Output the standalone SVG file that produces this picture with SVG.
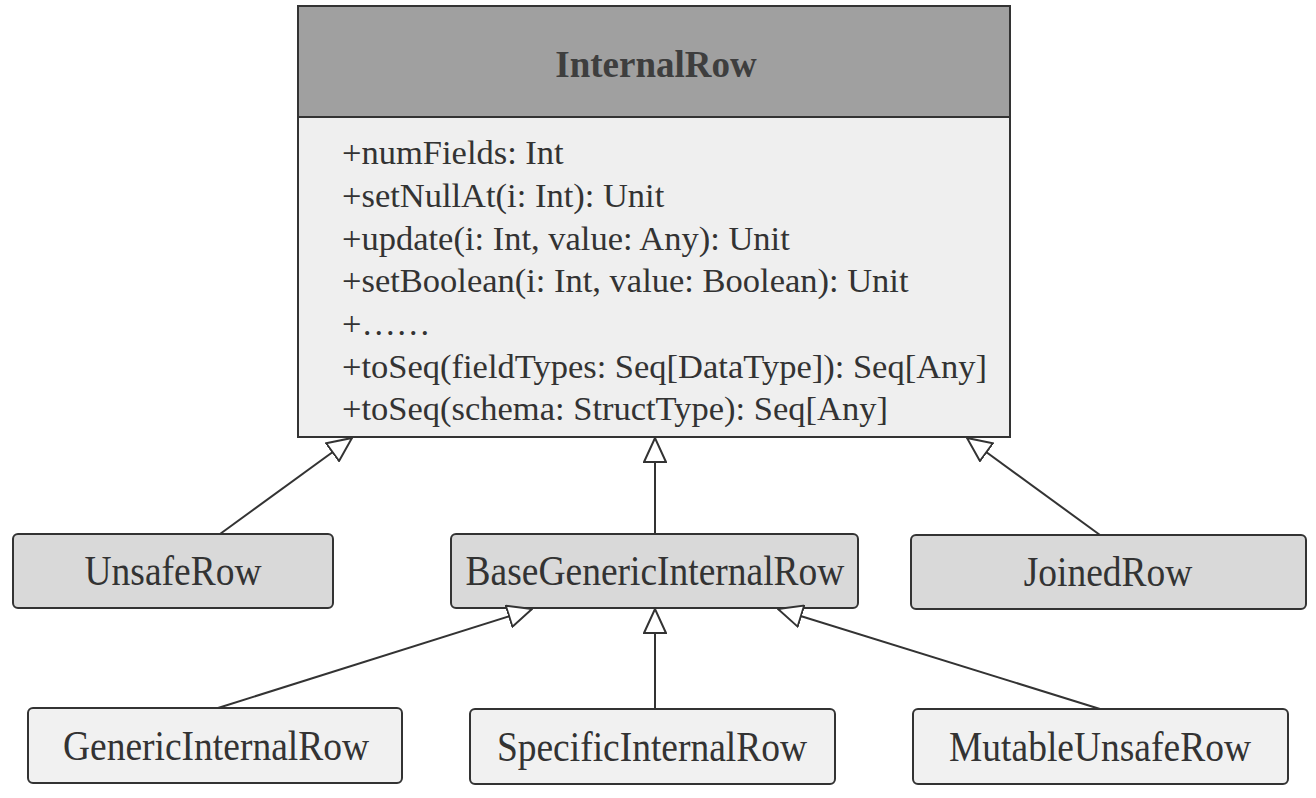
<svg xmlns="http://www.w3.org/2000/svg" width="1316" height="798" viewBox="0 0 1316 798">
<style>
text{font-family:"Liberation Serif","Times New Roman",serif;fill:#333}
.box{stroke:#333;stroke-width:2}
.mid{fill:#d9d9d9}
.low{fill:#f1f1f1}
.lbl{font-size:37.5px;text-anchor:middle}
.mem{font-size:34.5px}
.conn{stroke:#333;stroke-width:2;fill:none;marker-end:url(#tri)}
</style>
<defs>
<marker id="tri" viewBox="0 0 26 24" markerWidth="26" markerHeight="24" refX="25" refY="12" orient="auto" markerUnits="userSpaceOnUse">
<path d="M1,1 L25,12 L1,23 Z" fill="#fff" stroke="#333" stroke-width="2"/>
</marker>
</defs>
<rect width="1316" height="798" fill="#fff"/>
<g id="InternalRow">
<rect x="298" y="6" width="712" height="111" fill="#a0a0a0" class="box"/>
<rect x="298" y="117" width="712" height="320" fill="#efefef" class="box"/>
<text x="656" y="77" text-anchor="middle" font-size="37" font-weight="bold" style="fill:#3e3e3e">InternalRow</text>
<text class="mem" x="342" y="164">+numFields: Int</text>
<text class="mem" x="342" y="207">+setNullAt(i: Int): Unit</text>
<text class="mem" x="342" y="250">+update(i: Int, value: Any): Unit</text>
<text class="mem" x="342" y="292">+setBoolean(i: Int, value: Boolean): Unit</text>
<text class="mem" x="342" y="335">+……</text>
<text class="mem" x="342" y="378">+toSeq(fieldTypes: Seq[DataType]): Seq[Any]</text>
<text class="mem" x="342" y="420">+toSeq(schema: StructType): Seq[Any]</text>
</g>
<g id="UnsafeRow">
<rect x="13" y="534" width="320" height="74" rx="5" class="box mid"/>
<text class="lbl" transform="translate(173,585) scale(1,1.1)">UnsafeRow</text>
</g>
<g id="BaseGenericInternalRow">
<rect x="451" y="534" width="407" height="74" rx="5" class="box mid"/>
<text class="lbl" transform="translate(655,585) scale(1,1.1)">BaseGenericInternalRow</text>
</g>
<g id="JoinedRow">
<rect x="911" y="535" width="395" height="74" rx="5" class="box mid"/>
<text class="lbl" transform="translate(1108,586) scale(1,1.1)">JoinedRow</text>
</g>
<g id="GenericInternalRow">
<rect x="28" y="708" width="374" height="75" rx="5" class="box low"/>
<text class="lbl" transform="translate(216,760) scale(1,1.1)">GenericInternalRow</text>
</g>
<g id="SpecificInternalRow">
<rect x="470" y="709" width="365" height="75" rx="5" class="box low"/>
<text class="lbl" transform="translate(652,761) scale(1,1.1)">SpecificInternalRow</text>
</g>
<g id="MutableUnsafeRow">
<rect x="913" y="709" width="375" height="75" rx="5" class="box low"/>
<text class="lbl" transform="translate(1100,761) scale(1,1.1)">MutableUnsafeRow</text>
</g>
<g id="connectors">
<line class="conn" x1="220" y1="534" x2="352" y2="438"/>
<line class="conn" x1="655" y1="534" x2="655" y2="438"/>
<line class="conn" x1="1100" y1="535" x2="967" y2="438"/>
<line class="conn" x1="218" y1="708" x2="532" y2="609"/>
<line class="conn" x1="655" y1="709" x2="655" y2="609"/>
<line class="conn" x1="1100" y1="709" x2="778" y2="609"/>
</g>
</svg>
